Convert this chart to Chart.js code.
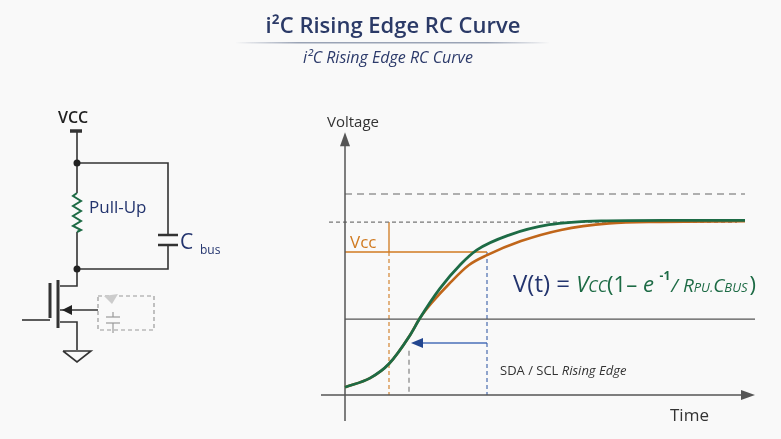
<!DOCTYPE html>
<html><head><meta charset="utf-8">
<script src="https://cdn.jsdelivr.net/npm/chart.js@4/dist/chart.umd.min.js"></script>
<style>html,body{margin:0;background:#f9f9f9}#w{width:781px;height:439px}</style>
</head><body><div id="w"><canvas id="c"></canvas></div>
<script>
const greenX = [0,0.625,1.1,1.625,1.875,2.375,2.875,3.3,4.1,5.1,6.4,8,10];
const greenY = [0.3,0.65,1.2,2.3,2.96,4.1,5.0,5.58,6.15,6.55,6.7,6.72,6.72];
const orangeX = [0,0.625,1.1,1.625,1.875,2.2,2.6,3.1,3.55,4.4,5.4,6.6,7.9,10];
const orangeY = [0.3,0.65,1.2,2.3,2.96,3.6,4.27,5.0,5.38,5.92,6.35,6.6,6.66,6.68];
const topDashY = 7.73, plateauY = 6.65, vccY = 5.5, midY = 2.92;
const vccX = 1.1, riseX = 3.55, lowX = 1.6, arrowY = 2.0;

const pts = (xs, ys) => xs.map((x, i) => ({x, y: ys[i]}));
const seg = (x1,y1,x2,y2) => [{x:x1,y:y1},{x:x2,y:y2}];
const L = (data, color, w, dash) => ({data, borderColor: color, borderWidth: w, borderDash: dash || [], pointRadius: 0, showLine: true, tension: 0, fill:false});

const datasets = [
  {...L(pts(greenX, greenY), '#1d6b45', 2.8), tension: 0.4, cubicInterpolationMode:'monotone'},
  {...L(pts(orangeX, orangeY), '#c0661a', 2.6), tension: 0.4, cubicInterpolationMode:'monotone'},
  L(seg(0,-1,0,9.8), '#555', 1.5),
  L(seg(-0.6,0,9.9,0), '#555', 1.5),
  L(seg(0,topDashY,10,topDashY), '#666', 1.2, [7,5]),
  L(seg(-0.4,plateauY,9.8,plateauY), '#777', 1.1, [4,3]),
  L(seg(0,midY,10.25,midY), '#555', 1.3),
  L(seg(0,vccY,riseX,vccY), '#d07a20', 1.6),
  L(seg(vccX,plateauY,vccX,vccY), '#d07a20', 1.3),
  L(seg(vccX,vccY,vccX,0), '#d07a20', 1.1, [4,3]),
  L(seg(riseX,vccY,riseX,0), '#3a5fa8', 1.1, [4,3]),
  L(seg(lowX,1.7,lowX,0), '#777', 1.1, [5,4]),
  L(seg(riseX,arrowY,lowX+0.25,arrowY), '#4a6fb8', 1.3)
];

const deco = {
  id: 'deco',
  afterDatasetsDraw(chart) {
    const c = chart.ctx, xs = chart.scales.x, ys = chart.scales.y;
    const px = v => xs.getPixelForValue(v), py = v => ys.getPixelForValue(v);
    c.save();
    const tri = (x1,y1,x2,y2,x3,y3,col) => {c.fillStyle=col;c.beginPath();c.moveTo(x1,y1);c.lineTo(x2,y2);c.lineTo(x3,y3);c.closePath();c.fill();};
    tri(px(0),py(9.8)-8,px(0)-5,py(9.8)+6,px(0)+5,py(9.8)+6,'#555');
    tri(px(9.9)+14,py(0),px(9.9),py(0)-5,px(9.9),py(0)+5,'#555');
    const ax = px(lowX+0.05), ay = py(arrowY);
    tri(ax,ay,ax+12,ay-5,ax+12,ay+5,'#23468f');
    c.textBaseline='alphabetic';
    c.fillStyle='#333'; c.font='15px "Open Sans"'; c.textAlign='left';
    c.fillText('Voltage',327,127);
    c.font='17px "Open Sans"'; c.fillText('Time',670,421);
    c.fillStyle='#d07a20'; c.font='17px "Open Sans"'; c.fillText('Vcc',350,248);
    c.font='24px "Open Sans"'; c.fillStyle='#23346e'; c.fillText('V(t) = ',513,292);
    let x = 513 + c.measureText('V(t) = ').width;
    c.fillStyle='#1d6b45'; c.font='italic 22px "Open Sans"'; c.fillText('V',x,292); x+=c.measureText('V').width;
    c.font='italic 16px "Open Sans"'; c.fillText('CC',x,292); x+=c.measureText('CC').width;
    c.font='22px "Open Sans"'; c.fillText('(1– ',x,292); x+=c.measureText('(1– ').width;
    c.font='italic 22px "Open Sans"'; c.fillText('e',x,292); x+=c.measureText('e ').width;
    c.font='bold 12px "Open Sans"'; c.fillText('-1',x,280); x+=c.measureText('-1').width+1;
    c.font='italic 19px "Open Sans"'; c.fillText('/ R',x,292); x+=c.measureText('/ R').width;
    c.font='italic 13px "Open Sans"'; c.fillText('PU.',x,292); x+=c.measureText('PU.').width;
    c.font='italic 19px "Open Sans"'; c.fillText('C',x,292); x+=c.measureText('C').width;
    c.font='italic 13px "Open Sans"'; c.fillText('BUS',x,292); x+=c.measureText('BUS').width+2;
    c.font='22px "Open Sans"'; c.fillText(')',x,292);
    c.fillStyle='#333'; c.font='13px "Open Sans"'; c.fillText('SDA / SCL ',500,375);
    let x2 = 500 + c.measureText('SDA / SCL ').width;
    c.font='italic 13px "Open Sans"'; c.fillText('Rising Edge',x2,375);
    c.textAlign='center'; c.fillStyle='#2b3a67';
    c.font='600 22px "Open Sans"'; c.fillText('i²C Rising Edge RC Curve',393,33);
    const g=c.createLinearGradient(235,0,550,0); g.addColorStop(0,'rgba(150,160,180,0)');g.addColorStop(0.2,'#9aa3b5');g.addColorStop(0.8,'#9aa3b5');g.addColorStop(1,'rgba(150,160,180,0)');
    c.fillStyle=g; c.fillRect(235,42,315,1.5);
    c.fillStyle='#2d3b6b'; c.font='italic 16px "Open Sans"'; c.fillText('i²C Rising Edge RC Curve',388,63);
    c.textAlign='left';
    c.strokeStyle='#333'; c.lineWidth=1.6; c.fillStyle='#222';
    const ln=(pts)=>{c.beginPath();c.moveTo(pts[0],pts[1]);for(let i=2;i<pts.length;i+=2)c.lineTo(pts[i],pts[i+1]);c.stroke();};
    c.font='600 16px "Open Sans"'; c.fillText('VCC',58,123);
    c.lineWidth=3.5; ln([70,131,82,131]); c.lineWidth=1.6;
    ln([77,131,77,193]); ln([77,232,77,286,60,286]);
    ln([77,163,168,163,168,235]); ln([168,245,168,269,77,269]);
    c.lineWidth=2.5; ln([158,235,178,235]); ln([158,245,178,245]); c.lineWidth=1.6;
    [[77,163],[77,269]].forEach(([a,b])=>{c.beginPath();c.arc(a,b,3.5,0,7);c.fill();});
    c.strokeStyle='#1d6b45'; c.lineWidth=2;
    ln([77,193,73,196,81,201,73,206,81,211,73,216,81,221,73,226,81,230,77,232]);
    c.fillStyle='#23346e'; c.font='17px "Open Sans"'; c.fillText('Pull-Up',89,213);
    c.font='21px "Open Sans"'; c.fillText('C',180,249); c.font='12px "Open Sans"'; c.fillText('bus',200,254);
    c.strokeStyle='#333'; c.lineWidth=3; ln([58,280,58,328]); ln([50,283,50,318]);
    c.lineWidth=1.6; ln([22,320,50,320]); ln([60,310,98,310]); ln([60,322,77,322,77,350]);
    tri(62,310,72,305,72,315,'#222');
    ln([63,351,91,351,77,362,63,351]);
    c.strokeStyle='#999'; c.lineWidth=1.2; c.setLineDash([4,3]);
    c.strokeRect(98,296,56,34); c.setLineDash([]);
    ln([106,317,120,317]); ln([106,323,120,323]); ln([113,312,113,317]); ln([113,323,113,333]);
    c.fillStyle='#ccc'; c.beginPath(); c.moveTo(104,296);c.lineTo(118,294);c.lineTo(112,304);c.closePath();c.fill();
    c.restore();
  }
};

new Chart(document.getElementById('c'), {
  type: 'scatter',
  data: { datasets },
  plugins: [deco],
  options: {
    responsive: true, maintainAspectRatio: false, animation: false,
    layout: { padding: { left: 321, right: 16, top: 135, bottom: 18 } },
    plugins: { legend: { display: false }, tooltip: { enabled: false } },
    scales: {
      x: { type: 'linear', min: -0.6, max: 10.5, display: false },
      y: { type: 'linear', min: -1, max: 10, display: false }
    }
  }
});
</script></body></html>
